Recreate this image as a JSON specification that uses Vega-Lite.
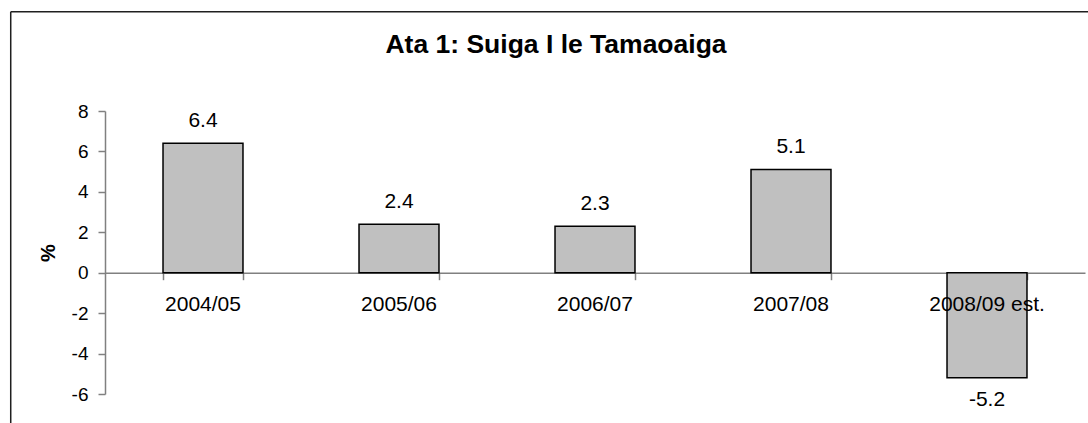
{
  "$schema": "https://vega.github.io/schema/vega-lite/v6.json",
  "width": 980,
  "height": 283,
  "autosize": {"type": "none"},
  "padding": {"left": 105, "top": 111, "right": 3, "bottom": 29},
  "background": "white",
  "config": {"view": {"stroke": null}, "font": "Liberation Sans"},
  "title": {
    "text": "Ata 1: Suiga I le Tamaoaiga",
    "font": "Liberation Sans",
    "fontSize": 26.5,
    "fontWeight": "bold",
    "color": "#000000",
    "anchor": "middle",
    "frame": "group",
    "baseline": "alphabetic",
    "offset": -68,
    "dx": -39
  },
  "resolve": {"scale": {"x": "independent", "y": "independent"}},
  "layer": [
    {
      "data": {"values": [{"part": "chart area"}]},
      "layer": [
        {
          "mark": {"type": "rule", "color": "#1f1f1f", "strokeWidth": 1.5},
          "encoding": {
            "x": {"datum": -0.0962, "type": "quantitative", "scale": {"domain": [0, 1], "nice": false, "zero": false}, "axis": null},
            "x2": {"datum": 1.2},
            "y": {"datum": 1.3505, "type": "quantitative", "scale": {"domain": [0, 1], "nice": false, "zero": false}, "axis": null}
          }
        },
        {
          "mark": {"type": "rule", "color": "#1f1f1f", "strokeWidth": 1.5},
          "encoding": {
            "x": {"datum": -0.0962, "type": "quantitative", "scale": {"domain": [0, 1], "nice": false, "zero": false}, "axis": null},
            "y": {"datum": 1.3505, "type": "quantitative", "scale": {"domain": [0, 1], "nice": false, "zero": false}, "axis": null},
            "y2": {"datum": -0.2}
          }
        }
      ]
    },
    {
      "data": {
        "values": [
          {"year": "2004/05", "growth": 6.4},
          {"year": "2005/06", "growth": 2.4},
          {"year": "2006/07", "growth": 2.3},
          {"year": "2007/08", "growth": 5.1},
          {"year": "2008/09 est.", "growth": -5.2}
        ]
      },
      "encoding": {
        "x": {
          "field": "year",
          "type": "nominal",
          "sort": null,
          "scale": {"paddingInner": 0.592, "paddingOuter": 0.296},
          "axis": {
            "orient": "bottom",
            "offset": -121.3,
            "labels": false,
            "title": null,
            "tickBand": "extent",
            "tickSize": 7,
            "tickColor": "#808080",
            "tickWidth": 1.5,
            "domainColor": "#808080",
            "domainWidth": 1.5,
            "grid": false
          }
        }
      },
      "layer": [
        {
          "mark": {"type": "bar", "fill": "#c0c0c0", "stroke": "#000000", "strokeWidth": 1.5},
          "encoding": {
            "y": {
              "field": "growth",
              "type": "quantitative",
              "scale": {"domain": [-6, 8], "nice": false, "zero": false},
              "axis": {
                "values": [-6, -4, -2, 0, 2, 4, 6, 8],
                "labelExpr": "'' + datum.value",
                "title": "%",
                "titleFont": "Liberation Sans",
                "titleFontSize": 20,
                "titleFontWeight": "bold",
                "titleColor": "#000000",
                "titlePadding": 13,
                "labelFont": "Liberation Sans",
                "labelFontSize": 19,
                "labelColor": "#000000",
                "labelPadding": 10,
                "tickSize": 7,
                "tickColor": "#808080",
                "tickWidth": 1.5,
                "domainColor": "#808080",
                "domainWidth": 1.5,
                "grid": false
              }
            },
            "y2": {"datum": 0}
          }
        },
        {
          "transform": [{"filter": "datum.growth >= 0"}],
          "mark": {"type": "text", "font": "Liberation Sans", "fontSize": 21, "color": "#000000", "baseline": "alphabetic", "dy": -16.5},
          "encoding": {
            "y": {"field": "growth", "type": "quantitative"},
            "text": {"field": "growth", "type": "nominal"}
          }
        },
        {
          "transform": [{"filter": "datum.growth < 0"}],
          "mark": {"type": "text", "font": "Liberation Sans", "fontSize": 21, "color": "#000000", "baseline": "alphabetic", "dy": 28.3},
          "encoding": {
            "y": {"field": "growth", "type": "quantitative"},
            "text": {"field": "growth", "type": "nominal"}
          }
        },
        {
          "mark": {"type": "text", "font": "Liberation Sans", "fontSize": 21, "color": "#000000", "baseline": "alphabetic", "dy": 38.3},
          "encoding": {
            "y": {"datum": 0, "type": "quantitative"},
            "text": {"field": "year", "type": "nominal"}
          }
        }
      ]
    }
  ]
}
